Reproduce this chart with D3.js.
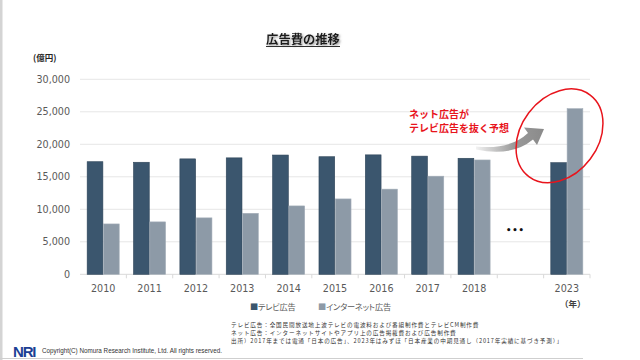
<html>
<head>
<meta charset="utf-8">
<script src="https://d3js.org/d3.v7.min.js"></script>
<style>
  body { margin: 0; background: #fff; }
  svg { display: block; }
</style>
</head>
<body>
<div id="chart"></div>
<script>
// categories (the empty slot is the "..." gap before 2023)
const years = ["2010", "2011", "2012", "2013", "2014", "2015", "2016", "2017", "2018", "gap", "2023"];
// テレビ広告 (億円)
const tvValues = [17321, 17237, 17757, 17913, 18347, 18088, 18374, 18178, 17848, null, 17170];
// インターネット広告 (億円)
const netValues = [7747, 8062, 8680, 9381, 10519, 11594, 13100, 15094, 17589, null, 25480];
const series = ["テレビ広告", "インターネット広告"];
const yTicks = [0, 5000, 10000, 15000, 20000, 25000, 30000];
const notes = [
  "テレビ広告：全国民間放送地上波テレビの電波料および番組制作費とテレビCM制作費",
  "ネット広告：インターネットサイトやアプリ上の広告掲載費および広告制作費",
  "出所）2017年までは電通「日本の広告」、2023年はみずほ「日本産業の中期見通し（2017年実績に基づき予測）」"
];

const W = 640, H = 360;
const JP = "Noto Sans CJK JP, Noto Sans, sans-serif";
const NUM = "DejaVu Sans, Verdana, sans-serif";
const colors = ["#3b566e", "#8d9aa7"];
const strokes = ["#2d4458", "#a3adb8"];

const svg = d3.select("#chart").append("svg")
  .attr("width", W).attr("height", H);

const defs = svg.append("defs");
const shadow = defs.append("filter").attr("id", "shadow")
  .attr("x", "-10%").attr("y", "-30%").attr("width", "130%").attr("height", "180%");
shadow.append("feDropShadow").attr("dx", 1.2).attr("dy", 1.2)
  .attr("stdDeviation", 0.8).attr("flood-color", "#777").attr("flood-opacity", 0.8);
const grad = defs.append("linearGradient").attr("id", "arrowGrad")
  .attr("x1", "0%").attr("x2", "100%").attr("y1", "0%").attr("y2", "0%");
grad.append("stop").attr("offset", "0%").attr("stop-color", "#f2f2f2");
grad.append("stop").attr("offset", "55%").attr("stop-color", "#9a9a9a");
grad.append("stop").attr("offset", "100%").attr("stop-color", "#8a8a8a");

// page frame: grey strip on the left and line at the bottom
svg.append("rect").attr("x", 0).attr("y", 0).attr("width", 2.5).attr("height", H).attr("fill", "#d4d4d4");
svg.append("line").attr("x1", 0).attr("x2", 583).attr("y1", 358.5).attr("y2", 358.5)
  .attr("stroke", "#cfcfcf").attr("stroke-width", 1);

// title
svg.append("text").attr("font-family", JP)
  .attr("x", 303).attr("y", 44).attr("text-anchor", "middle")
  .attr("font-size", 12.3).attr("font-weight", "bold").attr("fill", "#1a1a1a")
  .attr("filter", "url(#shadow)")
  .text("広告費の推移");
svg.append("line").attr("x1", 266).attr("x2", 340).attr("y1", 46.5).attr("y2", 46.5)
  .attr("stroke", "#1a1a1a").attr("stroke-width", 0.9);

// scales
const x = d3.scaleBand().domain(years).range([80, 590]).padding(0);
const xs = d3.scaleBand().domain(series).range([0, x.bandwidth()]).paddingInner(0).paddingOuter(0.42);
const y = d3.scaleLinear().domain([0, 30000]).range([274.3, 79.3]);

// grid lines
svg.append("g")
  .selectAll("line").data(yTicks.filter(d => d > 0)).join("line")
  .attr("x1", 80).attr("x2", 590)
  .attr("y1", d => y(d)).attr("y2", d => y(d))
  .attr("stroke", "#e6e6e6").attr("stroke-width", 1);

// y axis labels
const yAxis = svg.append("g").attr("transform", "translate(80,0)")
  .call(d3.axisLeft(y).tickValues(yTicks).tickFormat(d3.format(",")).tickSize(0).tickPadding(10));
yAxis.select(".domain").remove();
yAxis.attr("font-family", NUM).attr("font-size", 9.6);
yAxis.selectAll("text").attr("fill", "#595959");

// x axis with ticks on slot boundaries
const xAxisG = svg.append("g").attr("transform", `translate(0,${y(0)})`);
xAxisG.append("line").attr("x1", 80).attr("x2", 590).attr("stroke", "#d9d9d9");
xAxisG.selectAll(".bnd").data(years.slice(1).map(d => x(d)).concat([590])).join("line")
  .attr("class", "bnd")
  .attr("x1", d => d).attr("x2", d => d).attr("y1", 0).attr("y2", 4)
  .attr("stroke", "#d9d9d9");
xAxisG.selectAll(".lbl").data(years.filter(d => d !== "gap")).join("text")
  .attr("class", "lbl")
  .attr("font-family", NUM)
  .attr("x", d => x(d) + x.bandwidth() / 2).attr("y", 17.5)
  .attr("text-anchor", "middle").attr("font-size", 9.6).attr("fill", "#595959")
  .text(d => d);

// bars
const rows = years.map((yr, i) => ({ year: yr, vals: [tvValues[i], netValues[i]] }))
  .filter(d => d.vals[0] !== null);
const groups = svg.append("g").selectAll("g").data(rows).join("g")
  .attr("transform", d => `translate(${x(d.year)},0)`);
groups.selectAll("rect")
  .data(d => d.vals.map((v, j) => ({ key: series[j], v: v, j: j })))
  .join("rect")
  .attr("x", d => xs(d.key) + 0.3)
  .attr("width", xs.bandwidth() - 0.6)
  .attr("y", d => y(d.v))
  .attr("height", d => y(0) - y(d.v))
  .attr("fill", d => colors[d.j])
  .attr("stroke", d => strokes[d.j]).attr("stroke-width", 0.6);

// "..." in the gap slot
svg.append("text").attr("font-family", NUM)
  .attr("x", x("gap") + x.bandwidth() / 2 - 5).attr("y", y(6400))
  .attr("text-anchor", "middle").attr("font-size", 8.5).attr("font-weight", "bold")
  .attr("fill", "#111").attr("letter-spacing", 0.8)
  .text("•••");

// unit labels
svg.append("text").attr("font-family", JP).attr("x", 33).attr("y", 61)
  .attr("font-size", 8.5).attr("font-weight", "bold").attr("fill", "#262626").text("(億円)");
svg.append("text").attr("font-family", JP)
  .attr("x", x("2023") + x.bandwidth() / 2 + 6).attr("y", 306.5).attr("text-anchor", "middle")
  .attr("font-size", 8.5).attr("font-weight", "bold").attr("fill", "#404040").text("（年）");

// annotation: arrow, ellipse, text
const cx23 = x("2023") + x.bandwidth() / 2;
svg.append("path")
  .attr("d", "M476,146.5 Q510,150 528,133 L524,127.5 L544,129 L537,145 L533,139.5 Q512,157 476,149.5 Z")
  .attr("fill", "url(#arrowGrad)");
svg.append("ellipse")
  .attr("cx", 0).attr("cy", 0).attr("rx", 51).attr("ry", 38.5)
  .attr("transform", `translate(${cx23 - 7.3},${y(21300)}) rotate(-53)`)
  .attr("fill", "none").attr("stroke", "#e8141c").attr("stroke-width", 1.5);
const ann = svg.append("text").attr("font-family", JP)
  .attr("font-size", 10).attr("font-weight", "bold").attr("fill", "#e8141c");
ann.append("tspan").attr("x", 409).attr("y", 118).text("ネット広告が");
ann.append("tspan").attr("x", 409).attr("y", 131.5).text("テレビ広告を抜く予想");

// legend
const legend = svg.append("g").attr("font-family", JP).attr("font-size", 8.2).attr("fill", "#595959")
  .attr("letter-spacing", -0.2)
  .style("font-feature-settings", "'palt'");
const legX = [250, 318];
series.forEach((s, i) => {
  const t = legend.append("text").attr("x", legX[i]).attr("y", 309.5);
  t.append("tspan").attr("fill", colors[i]).text("■");
  t.append("tspan").text(s);
});

// footnotes
svg.append("g").attr("font-family", JP).attr("font-size", 5.6).attr("fill", "#333")
  .attr("letter-spacing", 0.85)
  .selectAll("text").data(notes).join("text")
  .attr("x", 231).attr("y", (d, i) => 326.5 + i * 8)
  .text(d => d);

// footer
svg.append("text").attr("x", 13).attr("y", 356.5)
  .attr("font-family", "Liberation Sans, Arial, sans-serif").attr("font-weight", "bold")
  .attr("font-size", 15).attr("letter-spacing", -1.2).attr("fill", "#1c3f94").text("NRI");
svg.append("text").attr("x", 42).attr("y", 353)
  .attr("font-family", "Liberation Sans, Arial, sans-serif")
  .attr("font-size", 6.3).attr("fill", "#333")
  .text("Copyright(C) Nomura Research Institute, Ltd. All rights reserved.");
</script>
</body>
</html>
